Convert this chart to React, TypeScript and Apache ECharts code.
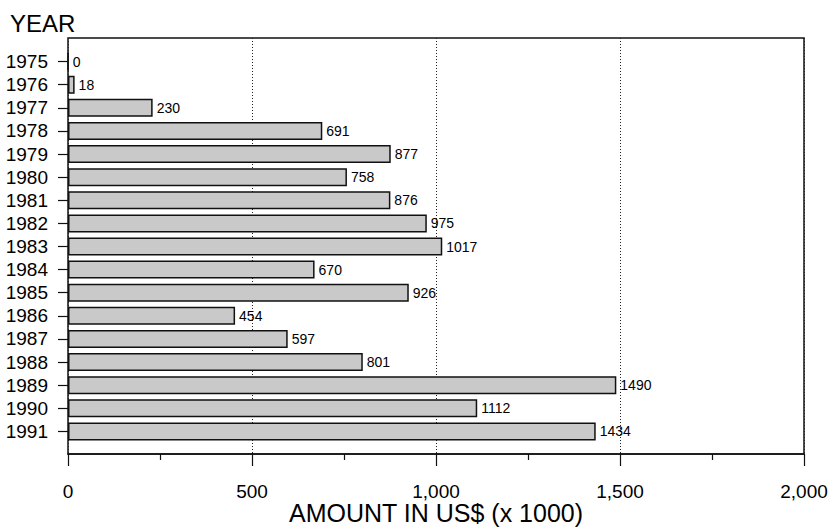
import React, { useEffect, useRef } from "react";
import * as echarts from "echarts";

const years = ["1975","1976","1977","1978","1979","1980","1981","1982","1983","1984","1985","1986","1987","1988","1989","1990","1991"];
const amounts = [0, 18, 230, 691, 877, 758, 876, 975, 1017, 670, 926, 454, 597, 801, 1490, 1112, 1434];
const xMin = 0;
const xMax = 2000;
const xInterval = 500;
const yTitle = "YEAR";
const xTitle = "AMOUNT IN US$ (x 1000)";

const FONT = "'Liberation Sans', Arial, Helvetica, sans-serif";

export default function App() {
  const ref = useRef<HTMLDivElement>(null);
  useEffect(() => {
    if (!ref.current) return;
    const chart = echarts.init(ref.current, null, { renderer: "svg" });
    chart.setOption({
      animation: false,
      backgroundColor: "#ffffff",
      textStyle: { fontFamily: FONT, color: "#000" },
      title: {
        text: yTitle,
        left: 5,
        top: 6,
        textStyle: { fontFamily: FONT, fontSize: 24, fontWeight: "normal", color: "#000" },
      },
      graphic: [
        {
          type: "text",
          x: 436,
          y: 513,
          style: {
            text: xTitle,
            fontFamily: FONT,
            fontSize: 25,
            fill: "#000",
            textAlign: "center",
            textVerticalAlign: "middle",
          },
        },
      ],
      grid: [
        { left: 68, right: 27, top: 38, bottom: 75, outerBoundsMode: "none", containLabel: false, show: true, borderColor: "#111", borderWidth: 1.5, backgroundColor: "transparent" },
        { left: 68, right: 27, top: 50, height: 393, outerBoundsMode: "none", containLabel: false },
      ],
      xAxis: [
        {
          gridIndex: 0,
          type: "value",
          min: xMin,
          max: xMax,
          interval: xInterval,
          axisLine: { show: true, lineStyle: { color: "#111", width: 1.5 } },
          axisTick: { show: true, length: 12, lineStyle: { color: "#111", width: 1.2 } },
          minorTick: { show: true, splitNumber: 2, length: 6, lineStyle: { color: "#111", width: 1.2 } },
          axisLabel: {
            fontFamily: FONT,
            fontSize: 19,
            color: "#000",
            margin: 28,
            formatter: (v: number) => v.toLocaleString("en-US"),
          },
          splitLine: { show: true, lineStyle: { color: "#222", type: [1, 2], width: 1 } },
        },
        {
          gridIndex: 1,
          type: "value",
          min: xMin,
          max: xMax,
          show: false,
        },
      ],
      yAxis: [
        {
          gridIndex: 0,
          type: "value",
          show: false,
        },
        {
          gridIndex: 1,
          type: "category",
          data: years,
          inverse: true,
          axisLine: { show: false },
          axisTick: { show: true, length: 10, alignWithLabel: true, interval: 0, lineStyle: { color: "#111", width: 1.2 } },
          axisLabel: { fontFamily: FONT, fontSize: 19, color: "#000", margin: 20, interval: 0 },
          splitLine: { show: false },
        },
      ],
      series: [
        {
          type: "bar",
          xAxisIndex: 1,
          yAxisIndex: 1,
          data: amounts,
          barWidth: 18,
          itemStyle: { color: "#c9c9c9", borderColor: "#111", borderWidth: 1.5 },
          label: {
            show: true,
            position: "right",
            distance: 4,
            fontFamily: FONT,
            fontSize: 14,
            color: "#000",
          },
        },
      ],
    });
    return () => chart.dispose();
  }, []);
  return <div ref={ref} style={{ position: "fixed", left: 0, top: 0, width: 831, height: 529 }} />;
}
